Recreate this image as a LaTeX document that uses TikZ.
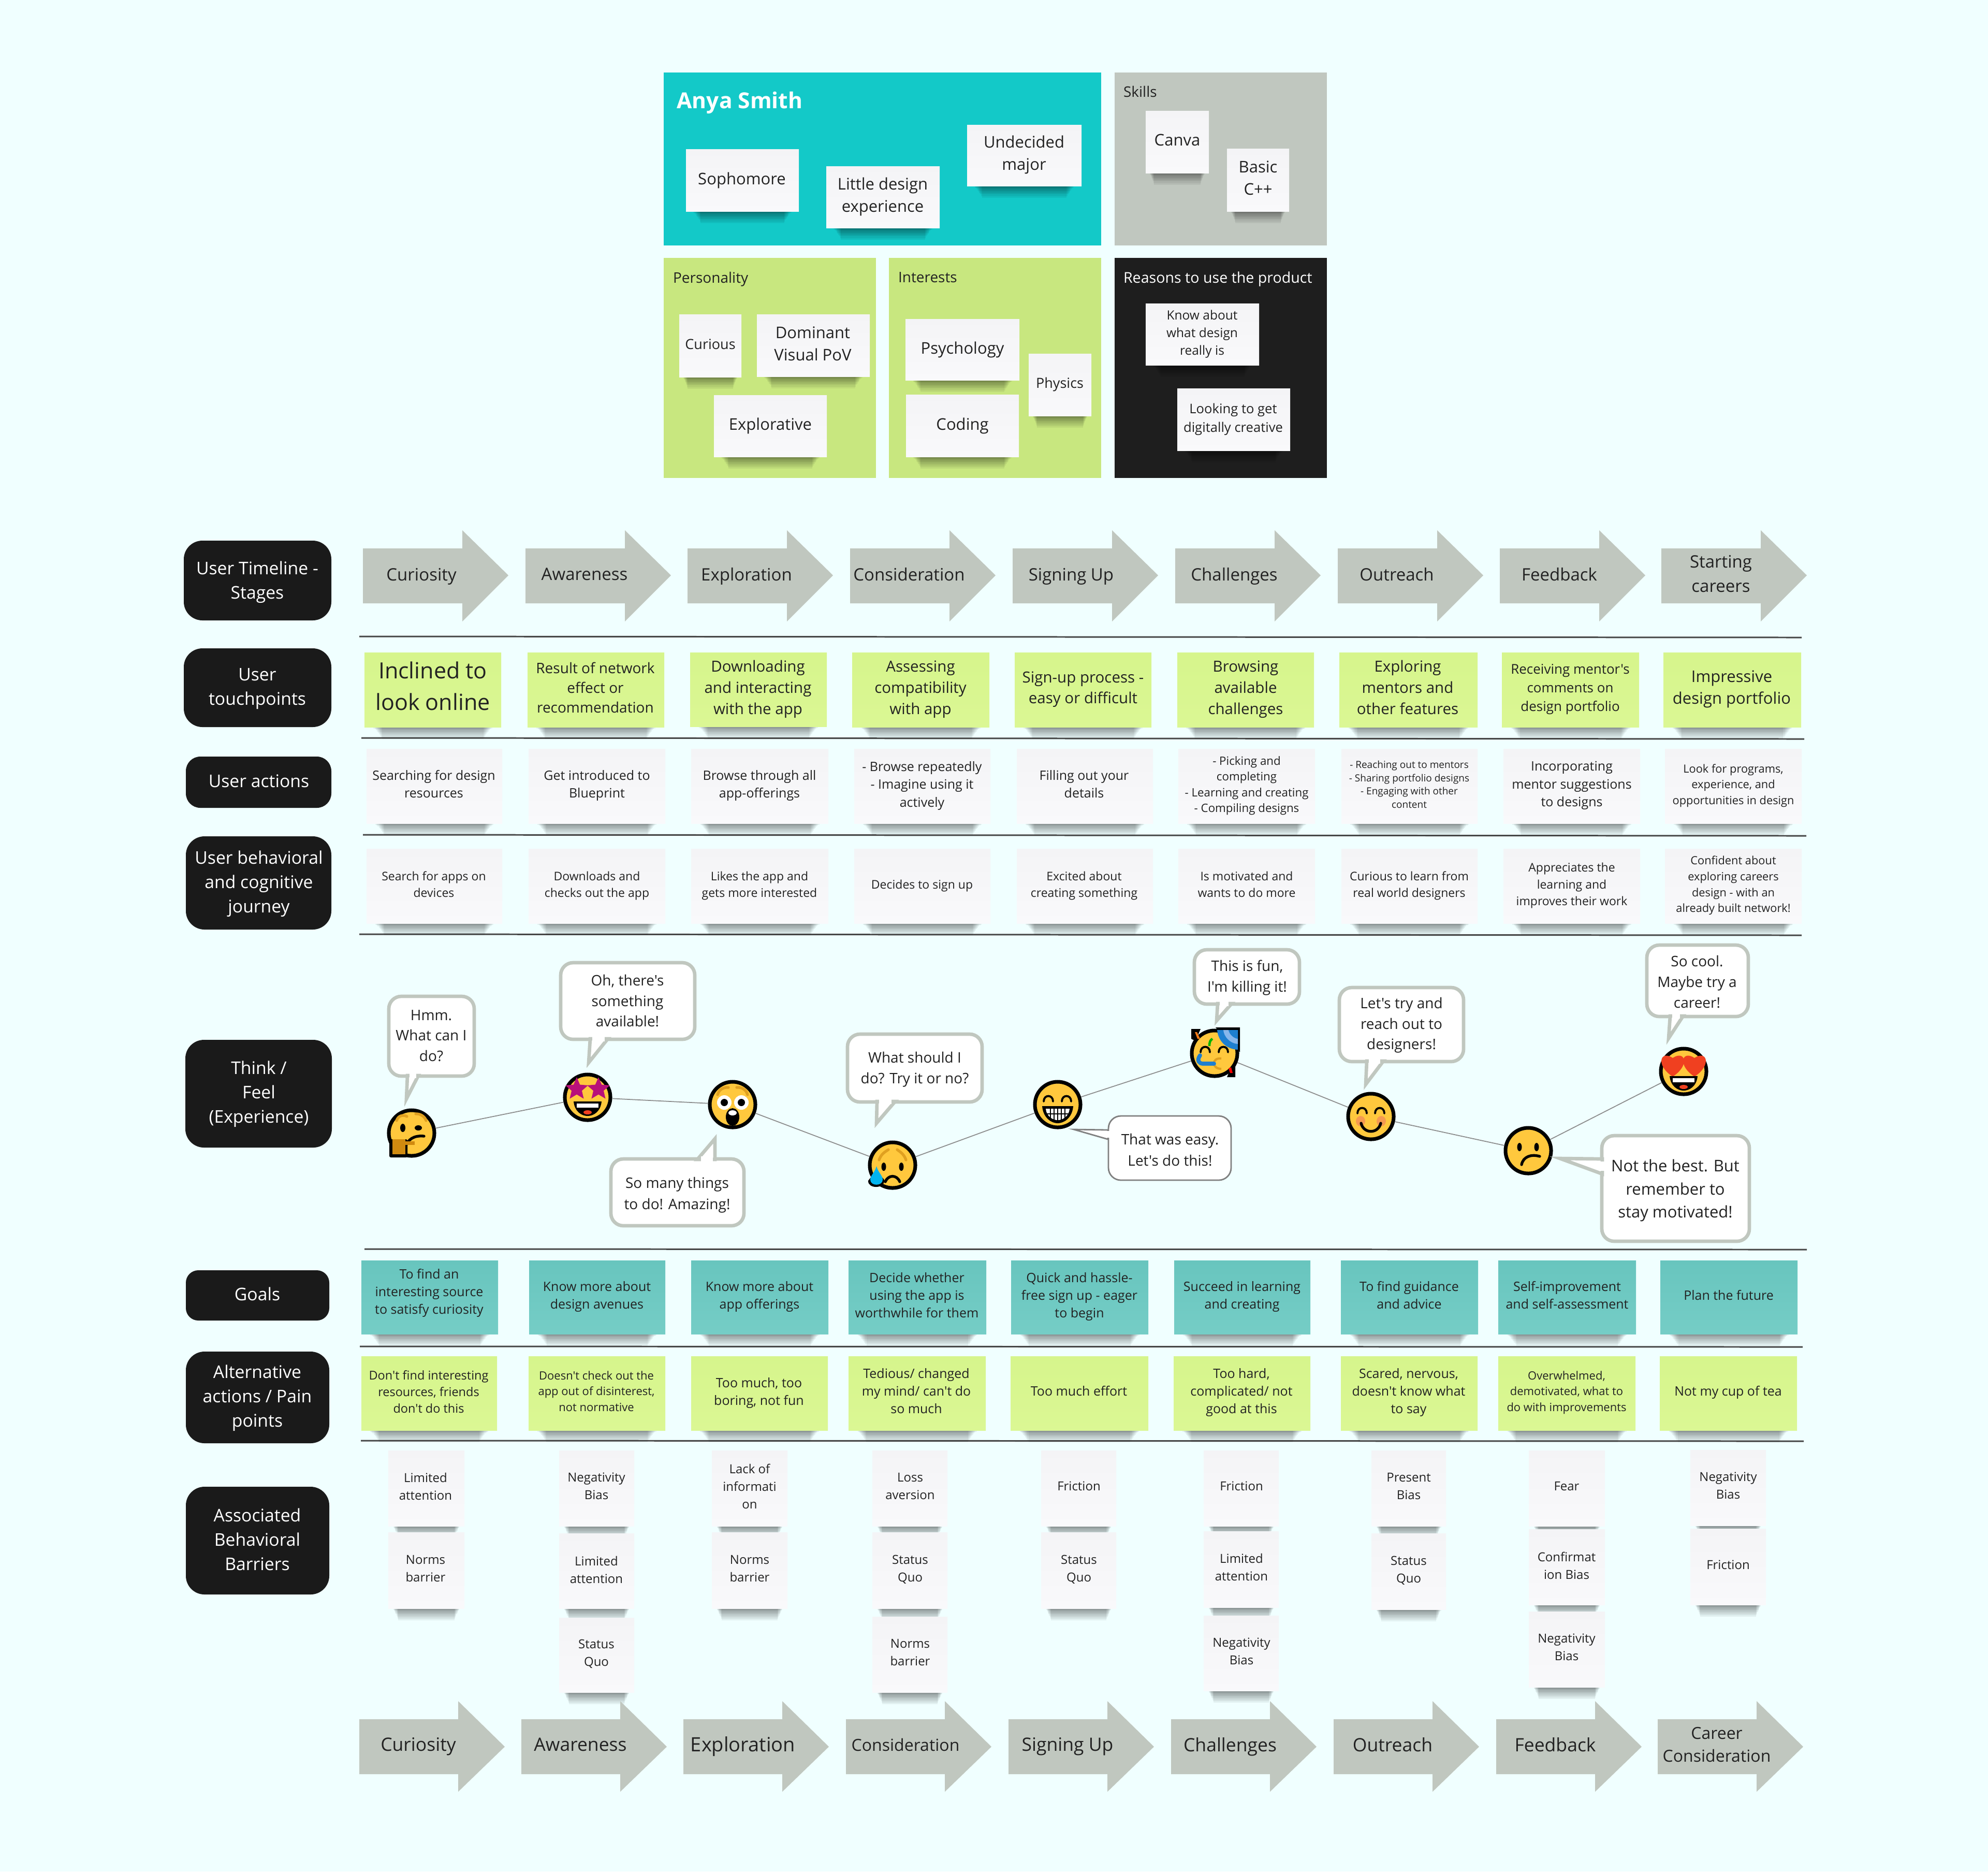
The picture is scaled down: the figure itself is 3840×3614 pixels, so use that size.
\documentclass[tikz,border=0pt]{standalone}
\usepackage{fontspec}
\defaultfontfeatures[\rmfamily,\sffamily]{}
\setmainfont{Open Sans}
\usetikzlibrary{shapes.geometric}
\definecolor{bgc}{HTML}{F0FFFF}
\definecolor{cyanp}{HTML}{13C9C8}
\definecolor{greyp}{HTML}{C0C7BF}
\definecolor{greenp}{HTML}{C8E77F}
\definecolor{inkp}{HTML}{1E1E1E}
\definecolor{labelc}{HTML}{1A1A1A}
\definecolor{txtc}{HTML}{222222}
\definecolor{yel}{HTML}{FFC83D}
\definecolor{brown}{HTML}{E0A020}
\definecolor{handc}{HTML}{D08A10}
\definecolor{mag}{HTML}{B8107A}
\definecolor{redc}{HTML}{F04020}
\definecolor{dropc}{HTML}{00B4F0}
\definecolor{bluec}{HTML}{1E7FD0}
\definecolor{lblue}{HTML}{86B6EC}
\definecolor{cheek}{HTML}{F59A50}
\definecolor{F3F3F5}{HTML}{F4F4F6}\definecolor{F9F9FB}{HTML}{F9F9FB}
\definecolor{D6F58C}{HTML}{D6F58C}\definecolor{DBF794}{HTML}{DBF794}
\definecolor{68C5BE}{HTML}{68C5BE}\definecolor{75CDC6}{HTML}{75CDC6}
\newcommand\fpx[2]{\edef\fa{\the\dimexpr #1pt*2845/10000\relax}\edef\fb{\the\dimexpr #2pt*2845/10000\relax}\fontsize{\fa}{\fb}\selectfont}
\newcommand\sv{\leavevmode\vphantom{Ag}}
\tikzset{
 txt/.style={align=center,inner sep=0,outer sep=0,text=txtc,yshift=-0.04cm,execute at begin node=\sv,execute at end node=\sv},
 whitesk/.style={top color=F3F3F5,bottom color=F9F9FB},
 greensk/.style={top color=D6F58C,bottom color=DBF794},
 tealsk/.style={top color=68C5BE,bottom color=75CDC6},
 rule/.style={draw=black!72,line width=0.85pt},
 stage/.style={fill=greyp},
 bubA/.style={draw=greyp,line width=1.9pt,fill=white},
 bubB/.style={draw=black!50,line width=0.8pt,fill=white},
 emoc/.style={circle,draw=black,line width=2pt,fill=yel,minimum size=0.88cm,inner sep=0},
 conn/.style={draw=black!45,line width=0.5pt},
 ink/.style={draw=black,line width=1.5pt,line cap=round},
 brow/.style={draw=brown,line width=1.5pt,line cap=round},
}
\newcommand\tx[5][]{\node[txt,#1,font={\fpx{#4}{#5}}] at (#3) {#2};}
\newcount\stkc
% style x1 y1 x2 y2 "cx,cy" size lead text
\newcommand\stk[9]{%
 \global\advance\stkc by 1
 \pgfmathsetmacro\sa{0.05*(#4-#2)}
 \pgfmathsetmacro\ww{(#4-#2)*0.01}
 \pgfmathsetmacro\hh{(#5-#3)*0.01}
 \foreach \k in {1,...,10} {\fill[black,opacity=.055] (#2+\sa+\k*\sa*0.16,#5-1) rectangle (#4-\sa-\k*\sa*0.16,#5+\k*1.1+\k*\k*0.12);}
 \node[#1,name=s\the\stkc,minimum width=\ww cm,minimum height=\hh cm,inner sep=0,outer sep=0] at ({(#2+#4)/2},{(#3+#5)/2}) {};
 \node[txt,name=s\the\stkc t,font={\fpx{#7}{#8}}] at (#6) {#9};
}
\newcommand\stgT[6]{\fill[stage] (#1,1059) -- (#1+192,1059) -- (#1+192,1024) -- (#1+281,1111) -- (#1+192,1200) -- (#1+192,1165) -- (#1,1165) -- cycle;
 \node[txt,font={\fpx{#4}{#5}}] at (#2,#3) {#6};}
\newcommand\stgB[6]{\fill[stage] (#1,3320) -- (#1+191,3320) -- (#1+191,3285) -- (#1+281,3373) -- (#1+191,3460) -- (#1+191,3426) -- (#1,3426) -- cycle;
 \node[txt,font={\fpx{#4}{#5}}] at (#2,#3) {#6};}
\newcommand\lab[6]{\pgfmathsetmacro\ww{(#4-#2)*0.01}\pgfmathsetmacro\hh{(#5-#3)*0.01}
 \node[rounded corners=#6*0.01cm,fill=labelc,minimum width=\ww cm,minimum height=\hh cm,inner sep=0,outer sep=0,name=#1] at ({(#2+#4)/2},{(#3+#5)/2}) {};}
\newcommand\labt[3]{\node[txt,text=white,font={\fpx{33.7}{47}}] at (#1,#2) {#3};}
\newcommand\bbl[6]{\pgfmathsetmacro\ww{(#5-#3-6)*0.01}\pgfmathsetmacro\hh{(#6-#4-6)*0.01}
 \node[#1,rounded corners=0.24cm,minimum width=\ww cm,minimum height=\hh cm,inner sep=0,name=#2] at ({(#3+#5)/2},{(#4+#6)/2}) {};}
\newcommand\emo[4]{\node[emoc,name=#1] at (#2,#3) {}; \begin{scope}[shift={(#2,#3)}] #4 \end{scope}}
\newcommand\eyearc[2]{\draw[draw=black,line width=1.1pt,line cap=round] (#1-9,#2+6) .. controls (#1-9,#2-8) and (#1+9,#2-8) .. (#1+9,#2+6);}
\newcommand\hrt[2]{\fill[redc] (#1,#2+24) .. controls (#1-34,#2+2) and (#1-24,#2-28) .. (#1,#2-12) .. controls (#1+24,#2-28) and (#1+34,#2+2) .. (#1,#2+24) -- cycle;}
\newcommand\lmouth[1]{\fill[black] (-27,#1) -- (27,#1) .. controls (25,#1+20) and (11,#1+28) .. (0,#1+28) .. controls (-11,#1+28) and (-25,#1+20) .. (-27,#1) -- cycle;
 \fill[white] (-21,#1+4) rectangle (21,#1+12);
 \fill[redc] (0,#1+21) ellipse [x radius=8,y radius=4];}
\begin{document}
\begin{tikzpicture}[x=0.01cm,y=-0.01cm]
\useasboundingbox (0,0) rectangle (3840,3614);
\fill[bgc] (0,0) rectangle (3840,3614);
% persona panels
\fill[cyanp] (1282,140) rectangle (2127,474);
\fill[greyp] (2153,140) rectangle (2563,474);
\fill[greenp] (1282,498) rectangle (1692,923);
\fill[greenp] (1717,498) rectangle (2127,923);
\fill[inkp] (2153,498) rectangle (2563,923);
\node[txt,text=white,font={\fpx{42.5}{50}\bfseries}] at (1429,194) {Anya Smith};
\node[txt,anchor=west,font={\fpx{28}{36}}] at (2170,176) {Skills};
\node[txt,anchor=west,font={\fpx{28}{36}}] at (1300,535) {Personality};
\node[txt,anchor=west,font={\fpx{28}{36}}] at (1735,535) {Interests};
\node[txt,anchor=west,text=white,font={\fpx{28.6}{36}}] at (2170,535) {Reasons to use the product};
\stk{whitesk}{1325}{288}{1543}{408}{1433,344}{31}{43}{Sophomore}
\stk{whitesk}{1596}{321}{1815}{440}{1705,376}{31}{43}{Little design\\experience}
\stk{whitesk}{1868}{241}{2089}{359}{1978,295}{31}{43}{Undecided\\major}
\stk{whitesk}{2213}{214}{2335}{334}{2274,270}{31}{43}{Canva}
\stk{whitesk}{2370}{287}{2490}{408}{2430,343}{31}{43}{Basic\\C++}
\stk{whitesk}{1312}{607}{1432}{728}{1372,664}{27}{36}{Curious}
\stk{whitesk}{1462}{607}{1680}{727}{1570,663}{31}{43}{Dominant\\Visual PoV}
\stk{whitesk}{1379}{763}{1597}{882}{1488,818}{31}{43}{Explorative}
\stk{whitesk}{1749}{616}{1969}{734}{1859,671}{31}{43}{Psychology}
\stk{whitesk}{1750}{762}{1968}{882}{1859,818}{31}{43}{Coding}
\stk{whitesk}{1987}{683}{2108}{803}{2047,738}{27}{36}{Physics}
\stk{whitesk}{2213}{586}{2432}{705}{2322,641}{24.5}{34}{Know about\\what design\\really is}
\stk{whitesk}{2274}{750}{2492}{870}{2382,806}{25.6}{36}{Looking to get\\digitally creative}
% row labels
\lab{l1}{355}{1044}{640}{1198}{36}\labt{497}{1120}{User Timeline -\\Stages}
\lab{l2}{355}{1252}{640}{1404}{36}\labt{497}{1326}{User\\ touchpoints}
\lab{l3}{359}{1461}{640}{1560}{28}\labt{500}{1508}{User actions}
\lab{l4}{359}{1615}{640}{1795}{36}\labt{500}{1703}{User behavioral\\and cognitive\\journey}
\lab{l5}{358}{2008}{641}{2216}{36}\labt{500}{2109}{Think /\\Feel\\(Experience)}
\lab{l6}{359}{2453}{636}{2550}{24}\labt{497}{2499}{Goals}
\lab{l7}{359}{2610}{636}{2787}{36}\labt{497}{2696}{Alternative\\actions / Pain\\points}
\lab{l8}{359}{2871}{636}{3079}{36}\labt{497}{2973}{Associated\\Behavioral\\Barriers}
% stages top
\stgT{701}{814}{1109}{33}{47}{Curiosity}
\stgT{1015}{1129}{1109}{33}{47}{Awareness}
\stgT{1328}{1442}{1109}{33}{47}{Exploration}
\stgT{1642}{1756}{1109}{33}{47}{Consideration}
\stgT{1956}{2069}{1109}{33}{47}{Signing Up}
\stgT{2270}{2384}{1109}{33}{47}{Challenges}
\stgT{2584}{2698}{1109}{33}{47}{Outreach}
\stgT{2897}{3012}{1109}{33}{47}{Feedback}
\stgT{3209}{3324}{1108}{33}{47}{Starting\\careers}
% rules
\draw[rule] (694,1229) -- (3480,1231);
\draw[rule] (698,1425) -- (3485,1427);
\draw[rule] (701,1612) -- (3489,1614);
\draw[rule] (694,1804) -- (3480,1806);
\draw[rule] (704,2412) -- (3490,2413);
\draw[rule] (695,2600) -- (3482,2601);
\draw[rule] (697,2782) -- (3484,2783);
% touchpoints
\stk{greensk}{704}{1260}{968}{1404}{836,1326}{43}{61}{Inclined to\\look online}
\stk{greensk}{1019}{1260}{1283}{1404}{1150,1327}{28}{38}{Result of network\\effect or\\recommendation}
\stk{greensk}{1333}{1260}{1597}{1403}{1464,1327}{29.5}{41}{Downloading\\and interacting\\with the app}
\stk{greensk}{1646}{1260}{1911}{1404}{1778,1327}{29.5}{41}{Assessing\\compatibility\\with app}
\stk{greensk}{1960}{1260}{2224}{1404}{2092,1327}{29.5}{40}{Sign-up process -\\easy or difficult}
\stk{greensk}{2274}{1260}{2538}{1404}{2406,1327}{29.5}{41}{Browsing\\available\\challenges}
\stk{greensk}{2587}{1260}{2854}{1404}{2719,1327}{29.5}{41}{Exploring\\mentors and\\other features}
\stk{greensk}{2901}{1260}{3166}{1404}{3033,1327}{26}{36}{Receiving mentor's\\comments on\\design portfolio}
\stk{greensk}{3213}{1260}{3479}{1404}{3345,1327}{31}{42}{Impressive\\design portfolio}
% actions
\stk{whitesk}{708}{1446}{970}{1590}{838,1513}{25}{34}{Searching for design\\resources}
\stk{whitesk}{1021}{1446}{1285}{1590}{1153,1513}{25}{34}{Get introduced to\\Blueprint}
\stk{whitesk}{1335}{1446}{1600}{1590}{1467,1513}{25}{34}{Browse through all\\app-offerings}
\stk{whitesk}{1650}{1446}{1913}{1590}{1781,1513}{25}{34.5}{- Browse repeatedly\\- Imagine using it\\actively}
\stk{whitesk}{1964}{1446}{2227}{1590}{2094,1513}{25}{34}{Filling out your\\details}
\stk{whitesk}{2276}{1446}{2540}{1590}{2408,1513}{22.3}{30.5}{- Picking and\\completing\\- Learning and creating\\- Compiling designs}
\stk{whitesk}{2591}{1446}{2854}{1590}{2722,1513}{19}{25.5}{- Reaching out to mentors\\- Sharing portfolio designs\\- Engaging with other\\content}
\stk{whitesk}{2904}{1446}{3168}{1590}{3036,1513}{25}{34.5}{Incorporating\\mentor suggestions\\to designs}
\stk{whitesk}{3216}{1446}{3480}{1590}{3348,1513}{21.8}{30.5}{Look for programs,\\experience, and\\opportunities in design}
% behaviour
\stk{whitesk}{708}{1639}{970}{1783}{838,1706}{23}{32}{Search for apps on\\devices}
\stk{whitesk}{1021}{1639}{1285}{1783}{1153,1706}{23}{32}{Downloads and\\checks out the app}
\stk{whitesk}{1335}{1639}{1600}{1783}{1467,1706}{23}{32}{Likes the app and\\gets more interested}
\stk{whitesk}{1650}{1639}{1913}{1783}{1781,1706}{23}{32}{Decides to sign up}
\stk{whitesk}{1964}{1639}{2227}{1783}{2094,1706}{23}{32}{Excited about\\creating something}
\stk{whitesk}{2276}{1639}{2540}{1783}{2408,1706}{23}{32}{Is motivated and\\wants to do more}
\stk{whitesk}{2591}{1639}{2854}{1783}{2722,1706}{23}{32}{Curious to learn from\\real world designers}
\stk{whitesk}{2904}{1639}{3168}{1783}{3036,1706}{23}{32}{Appreciates the\\learning and\\improves their work}
\stk{whitesk}{3216}{1639}{3480}{1783}{3348,1706}{21.8}{30.5}{Confident about\\exploring careers\\design - with an\\already built network!}
% emojis
\emo{e1}{795}{2188}{
 \draw[brow] (-29,-24) .. controls (-26,-34) and (-16,-36) .. (-9,-32);
 \draw[brow] (8,-37) .. controls (16,-38) and (26,-32) .. (28,-24);
 \fill[black] (-17,-10) ellipse [x radius=5,y radius=8];
 \fill[black] (13,-10) ellipse [x radius=7,y radius=5];
 \draw[ink] (-12,28) .. controls (-8,12) and (5,4) .. (24,6);
 \fill[black,rounded corners=0.03cm] (-43,12) rectangle (-8,47);
 \fill[handc] (-37,12) rectangle (-12,41);
 \fill[handc] (-14,16) rectangle (6,23);
}
\emo{e2}{1135}{2119}{
 \node[star,star points=5,star point ratio=2.2,fill=mag,minimum size=0.46cm,inner sep=0] (e2a) at (-21,-16) {};
 \node[star,star points=5,star point ratio=2.2,fill=mag,minimum size=0.46cm,inner sep=0] (e2b) at (21,-16) {};
 \lmouth{8}
}
\emo{e3}{1415}{2133}{
 \draw[brow] (-29,-19) .. controls (-26,-30) and (-16,-34) .. (-8,-33);
 \draw[brow] (8,-33) .. controls (16,-34) and (26,-30) .. (29,-19);
 \fill[white] (-16,-4) circle [radius=14];
 \fill[white] (17,-4) circle [radius=14];
 \fill[black] (-16,-4) circle [radius=7];
 \fill[black] (17,-4) circle [radius=7];
 \fill[black] (0,24) ellipse [x radius=13,y radius=17];
 \fill[white] (0,16) ellipse [x radius=8,y radius=5];
}
\emo{e4}{1724}{2250}{
 \draw[brow] (-26,-10) .. controls (-22,-22) and (-14,-26) .. (-8,-30);
 \draw[brow] (9,-30) .. controls (14,-26) and (22,-22) .. (26,-10);
 \fill[black] (-17,3) ellipse [x radius=4.5,y radius=8];
 \fill[black] (17,3) ellipse [x radius=4.5,y radius=8];
 \draw[ink] (-14,32) .. controls (-8,18) and (8,18) .. (14,32);
 \fill[black] (-33,12) .. controls (-28,20) and (-16,24) .. (-16,30) .. controls (-16,46) and (-48,46) .. (-47,30) -- cycle;
 \fill[dropc] (-31,2) .. controls (-28,14) and (-19,20) .. (-19,28) .. controls (-19,41) and (-43,41) .. (-43,28) .. controls (-43,20) and (-34,14) .. (-31,2) -- cycle;
}
\emo{e5}{2043}{2133}{
 \eyearc{-18}{-12}\eyearc{17}{-12}
 \fill[black] (-30,3) -- (30,3) .. controls (28,26) and (12,36) .. (0,36) .. controls (-12,36) and (-28,26) .. (-30,3) -- cycle;
 \fill[white] (-23,8) -- (23,8) .. controls (22,22) and (10,30) .. (0,30) .. controls (-10,30) and (-22,22) .. (-23,8) -- cycle;
 \foreach \q in {-14,-7,0,7,14} {\draw[black,line width=0.6pt] (\q,6) -- (\q,31);}
 \draw[black,line width=0.6pt] (-24,18) -- (24,18);
}
\emo{e6}{2346}{2034}{
 \fill[black] (2,-50) -- (49,-50) -- (49,-2) -- cycle;
 \fill[black] (-45,-47) -- (-27,-47) -- (-37,-24) -- (-45,-28) -- cycle;
 \fill[black] (40,46) -- (24,46) -- (34,22) -- (40,22) -- cycle;
 \fill[bluec] (45,-45) -- (5,-45) .. controls (7,-24) and (22,-8) .. (45,-7) -- cycle;
 \fill[lblue] (45,-45) -- (17,-45) .. controls (18,-32) and (30,-19) .. (45,-18) -- cycle;
 \fill[bluec] (45,-45) -- (27,-45) .. controls (28,-38) and (36,-29) .. (45,-28) -- cycle;
 \fill[redc!70!yellow] (-38,-41) -- (-34,-41) -- (-28,-28) -- (-33,-28) -- cycle;
 \draw[green!70!black,line width=1.3pt] (-10,-14) .. controls (-10,-22) and (-8,-26) .. (-4,-28);
 \fill[red] (27,29) -- (32,27) -- (35,38) -- (30,38) -- cycle;
 \eyearc{-18}{-8}\eyearc{17}{-8}
 \draw[brown,line width=1.2pt] (13,10) .. controls (-6,8) and (-6,30) .. (13,30);
 \draw[bluec,line width=2.2pt,line cap=round] (-28,4) .. controls (-35,14) and (-30,20) .. (-22,20) -- (-1,20);
}
\emo{e7}{2648}{2156}{
 \fill[cheek] (-20,9) ellipse [x radius=9,y radius=10];
 \fill[cheek] (20,9) ellipse [x radius=9,y radius=10];
 \eyearc{-17}{-12}\eyearc{17}{-12}
 \draw[ink] (-19,13) .. controls (-14,34) and (14,34) .. (19,13);
}
\emo{e8}{2952}{2222}{
 \fill[black] (-17,-7) ellipse [x radius=4.5,y radius=8];
 \fill[black] (16,-7) ellipse [x radius=4.5,y radius=8];
 \draw[ink] (-13,27) .. controls (-10,12) and (5,6) .. (22,11);
}
\emo{e9}{3252}{2069}{
 \hrt{-21}{-14}\hrt{21}{-14}
 \lmouth{9}
}
\draw[conn] (e1) -- (e2);
\draw[conn] (e2) -- (e3);
\draw[conn] (e3) -- (e4);
\draw[conn] (e4) -- (e5);
\draw[conn] (e5) -- (e6);
\draw[conn] (e6) -- (e7);
\draw[conn] (e7) -- (e8);
\draw[conn] (e8) -- (e9);
% bubbles
\bbl{bubA}{b1}{748}{1921}{919}{2081}
\fill[white,draw=greyp,line width=1.9pt] (787,2077) -- (785,2122) -- (808,2077) -- cycle;\fill[white] (791,2068) rectangle (804,2082);
\tx{Hmm.\\What can I\\do?}{833,1999}{28}{39.5}
\bbl{bubA}{b2}{1080}{1856}{1345}{2010}
\fill[white,draw=greyp,line width=1.9pt] (1140,2006) -- (1137,2052) -- (1174,2006) -- cycle;\fill[white] (1144,1998) rectangle (1168,2011);
\tx{Oh, there's\\something\\available!}{1212,1932}{28}{39.5}
\bbl{bubA}{b3}{1177}{2235}{1440}{2370}
\fill[white,draw=greyp,line width=1.9pt] (1347,2239) -- (1381,2199) -- (1381,2239) -- cycle;\fill[white] (1354,2233) rectangle (1377,2246);
\tx{So many things\\to do! Amazing!}{1308,2304}{28}{41}
\bbl{bubA}{b4}{1634}{1994}{1900}{2131}
\fill[white,draw=greyp,line width=1.9pt] (1694,2127) -- (1693,2169) -- (1729,2127) -- cycle;\fill[white] (1698,2119) rectangle (1722,2132);
\tx{What should I\\do? Try it or no?}{1767,2061}{28}{39.5}
\bbl{bubA}{b5}{2304}{1831}{2513}{1942}
\fill[white,draw=greyp,line width=1.9pt] (2352,1938) -- (2350,1971) -- (2379,1938) -- cycle;\fill[white] (2356,1930) rectangle (2373,1943);
\tx{This is fun,\\I'm killing it!}{2409,1884}{28}{40}
\bbl{bubB}{b6}{2138}{2152}{2381}{2282}
\fill[white,draw=black!50,line width=0.8pt] (2140,2182) -- (2074,2181) -- (2140,2200) -- cycle;\fill[white] (2135,2184) rectangle (2143,2197);
\tx{That was easy.\\Let's do this!}{2260,2220}{28}{41}
\bbl{bubA}{b7}{2584}{1904}{2830}{2053}
\fill[white,draw=greyp,line width=1.9pt] (2640,2049) -- (2638,2094) -- (2672,2049) -- cycle;\fill[white] (2644,2041) rectangle (2666,2054);
\tx{Let's try and\\reach out to\\designers!}{2707,1976}{28}{39.5}
\bbl{bubA}{b8}{3091}{2190}{3382}{2400}
\fill[white,draw=greyp,line width=1.9pt] (3095,2238) -- (3013,2237) -- (3095,2267) -- cycle;\fill[white] (3088,2243) rectangle (3102,2261);
\tx{Not the best. But\\remember to\\stay motivated!}{3236,2295}{31}{44.5}
\bbl{bubA}{b9}{3178}{1822}{3380}{1966}
\fill[white,draw=greyp,line width=1.9pt] (3226,1962) -- (3223,2005) -- (3251,1962) -- cycle;\fill[white] (3230,1954) rectangle (3245,1967);
\tx{So cool.\\Maybe try a\\career!}{3278,1895}{28}{40}
% goals
\stk{tealsk}{698}{2434}{962}{2576}{829,2493}{25}{34}{To find an\\interesting source\\to satisfy curiosity}
\stk{tealsk}{1022}{2434}{1285}{2576}{1153,2500}{25}{34}{Know more about\\design avenues}
\stk{tealsk}{1335}{2434}{1600}{2576}{1467,2500}{25}{34}{Know more about\\app offerings}
\stk{tealsk}{1639}{2434}{1905}{2576}{1771,2500}{25}{34}{Decide whether\\using the app is\\worthwhile for them}
\stk{tealsk}{1953}{2434}{2218}{2576}{2085,2500}{25}{34}{Quick and hassle-\\free sign up - eager\\to begin}
\stk{tealsk}{2268}{2434}{2531}{2576}{2399,2500}{25}{34}{Succeed in learning\\and creating}
\stk{tealsk}{2590}{2434}{2855}{2576}{2722,2500}{25}{34}{To find guidance\\and advice}
\stk{tealsk}{2894}{2434}{3160}{2576}{3027,2500}{25}{34}{Self-improvement\\and self-assessment}
\stk{tealsk}{3207}{2434}{3472}{2576}{3339,2500}{25}{34}{Plan the future}
% alternatives
\stk{greensk}{698}{2619}{960}{2762}{828,2686}{23.5}{32}{Don't find interesting\\resources, friends\\don't do this}
\stk{greensk}{1021}{2619}{1285}{2762}{1152,2685}{22}{30.5}{Doesn't check out the\\app out of disinterest,\\not normative}
\stk{greensk}{1335}{2619}{1599}{2762}{1466,2686}{25}{34}{Too much, too\\boring, not fun}
\stk{greensk}{1639}{2619}{1904}{2762}{1770,2685}{25}{34}{Tedious/ changed\\my mind/ can't do\\so much}
\stk{greensk}{1952}{2619}{2218}{2762}{2084,2685}{25}{34}{Too much effort}
\stk{greensk}{2267}{2619}{2531}{2762}{2398,2685}{25}{34}{Too hard,\\complicated/ not\\good at this}
\stk{greensk}{2590}{2619}{2854}{2762}{2721,2685}{25}{34}{Scared, nervous,\\doesn't know what\\to say}
\stk{greensk}{2894}{2619}{3159}{2762}{3026,2685}{22}{30.5}{Overwhelmed,\\demotivated, what to\\do with improvements}
\stk{greensk}{3206}{2619}{3471}{2762}{3338,2685}{25}{34}{Not my cup of tea}
% barriers
\stk{whitesk}{750}{2801}{897}{2947}{822,2869}{24}{34}{Limited\\attention}
\stk{whitesk}{750}{2959}{897}{3106}{822,3028}{24}{34}{Norms\\barrier}
\stk{whitesk}{1080}{2801}{1225}{2947}{1152,2869}{24}{34}{Negativity\\Bias}
\stk{whitesk}{1080}{2961}{1225}{3106}{1152,3030}{24}{34}{Limited\\attention}
\stk{whitesk}{1080}{3124}{1225}{3268}{1152,3191}{24}{34}{Status\\Quo}
\stk{whitesk}{1375}{2801}{1521}{2947}{1448,2869}{24}{34}{Lack of\\informati\\on}
\stk{whitesk}{1375}{2959}{1521}{3106}{1448,3028}{24}{34}{Norms\\barrier}
\stk{whitesk}{1685}{2801}{1830}{2947}{1758,2869}{24}{34}{Loss\\aversion}
\stk{whitesk}{1685}{2959}{1830}{3106}{1758,3028}{24}{34}{Status\\Quo}
\stk{whitesk}{1685}{3122}{1830}{3268}{1758,3190}{24}{34}{Norms\\barrier}
\stk{whitesk}{2011}{2801}{2156}{2947}{2084,2869}{24}{34}{Friction}
\stk{whitesk}{2011}{2959}{2156}{3106}{2084,3028}{24}{34}{Status\\Quo}
\stk{whitesk}{2325}{2801}{2470}{2947}{2398,2869}{24}{34}{Friction}
\stk{whitesk}{2325}{2957}{2470}{3104}{2398,3025}{24}{34}{Limited\\attention}
\stk{whitesk}{2325}{3120}{2470}{3265}{2398,3188}{24}{34}{Negativity\\Bias}
\stk{whitesk}{2649}{2801}{2793}{2947}{2721,2869}{24}{34}{Present\\Bias}
\stk{whitesk}{2649}{2961}{2793}{3108}{2721,3030}{24}{34}{Status\\Quo}
\stk{whitesk}{2953}{2801}{3100}{2947}{3026,2869}{24}{34}{Fear}
\stk{whitesk}{2953}{2953}{3100}{3099}{3026,3022}{24}{34}{Confirmat\\ion Bias}
\stk{whitesk}{2953}{3112}{3100}{3258}{3026,3180}{24}{34}{Negativity\\Bias}
\stk{whitesk}{3265}{2800}{3411}{2946}{3338,2868}{24}{34}{Negativity\\Bias}
\stk{whitesk}{3265}{2952}{3411}{3099}{3338,3021}{24}{34}{Friction}
% stages bottom
\stgB{694}{808}{3369}{35.5}{44}{Curiosity}
\stgB{1007}{1121}{3369}{35.5}{44}{Awareness}
\stgB{1320}{1435}{3369}{38}{44}{Exploration}
\stgB{1634}{1749}{3369}{32}{44}{Consideration}
\stgB{1948}{2062}{3369}{35.5}{44}{Signing Up}
\stgB{2262}{2376}{3369}{35.5}{44}{Challenges}
\stgB{2576}{2690}{3369}{35.5}{44}{Outreach}
\stgB{2890}{3004}{3369}{35.5}{44}{Feedback}
\stgB{3202}{3316}{3369}{32}{44}{Career\\Consideration}
\end{tikzpicture}
\end{document}
